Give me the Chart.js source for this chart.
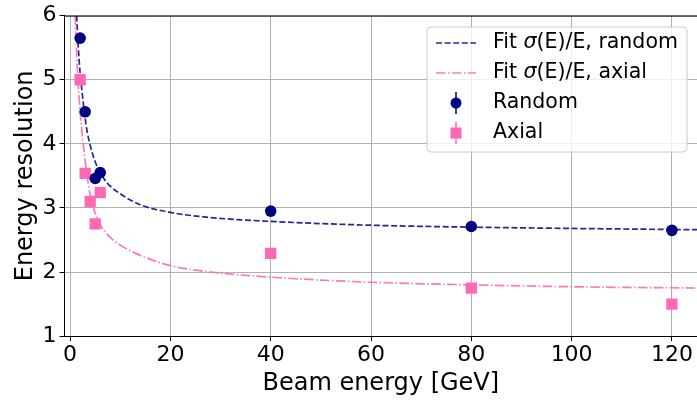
<!DOCTYPE html>
<html>
<head>
<meta charset="utf-8">
<script src="https://cdn.jsdelivr.net/npm/chart.js@4.4.1/dist/chart.umd.min.js"></script>
<style>
  html, body { margin: 0; padding: 0; background: #fff; }
  /* the axes box runs past the right edge of the page, so the canvas is a bit wider and cut off */
  #wrap { width: 697px; height: 400px; overflow: hidden; }
  canvas { display: block; }
</style>
</head>
<body>
<div id="wrap"><canvas id="resolution" width="705" height="400"></canvas></div>
<script>
// measured points
var randomE = [2, 3, 5, 6, 40, 80, 120];
var randomRes = [5.65, 4.5, 3.46, 3.55, 2.95, 2.71, 2.65];
var axialE = [2, 3, 4, 5, 6, 40, 80, 120];
var axialRes = [5.0, 3.54, 3.1, 2.75, 3.24, 2.29, 1.75, 1.5];

// fitted curves, sampled along the plotted range
var fitRandomE = [1.3, 1.6, 2.0, 2.4, 2.9, 3.5, 4.2, 5.0, 6.0, 7.5, 10, 14, 20, 28, 40, 60, 80, 100, 125];
var fitRandomRes = [6.0, 5.55, 5.1, 4.8, 4.45, 4.15, 3.92, 3.72, 3.55, 3.38, 3.22, 3.05, 2.93, 2.85, 2.79, 2.73, 2.70, 2.68, 2.66];
var fitAxialE = [1.0, 1.3, 1.6, 2.0, 2.4, 2.9, 3.4, 4.0, 5.0, 6.0, 7.5, 10, 14, 20, 28, 40, 60, 80, 100, 125];
var fitAxialRes = [6.0, 5.4, 4.95, 4.5, 4.15, 3.8, 3.5, 3.2, 2.92, 2.74, 2.58, 2.42, 2.26, 2.1, 2.0, 1.92, 1.84, 1.80, 1.77, 1.75];

var xTicks = [0, 20, 40, 60, 80, 100, 120];
var yTicks = [1, 2, 3, 4, 5, 6];

var FONT = "'DejaVu Sans', sans-serif";
var NAVY = "#000080";
var PINK = "#ff69b4";

function pts(xs, ys) {
  return xs.map(function (x, i) { return { x: x, y: ys[i] }; });
}

// top spine + boxed legend in the upper right corner
var frameAndLegend = {
  id: "frameAndLegend",
  afterDraw: function (chart) {
    var ctx = chart.ctx;
    var area = chart.chartArea;
    ctx.save();
    ctx.strokeStyle = "#000";
    ctx.lineWidth = 1;
    ctx.beginPath();
    ctx.moveTo(area.left, area.top + 0.5);
    ctx.lineTo(area.right, area.top + 0.5);
    ctx.stroke();

    var bx = 427, by = 27, bw = 260, bh = 125, r = 4;
    ctx.beginPath();
    ctx.moveTo(bx + r, by);
    ctx.arcTo(bx + bw, by, bx + bw, by + bh, r);
    ctx.arcTo(bx + bw, by + bh, bx, by + bh, r);
    ctx.arcTo(bx, by + bh, bx, by, r);
    ctx.arcTo(bx, by, bx + bw, by, r);
    ctx.closePath();
    ctx.fillStyle = "rgba(255,255,255,0.8)";
    ctx.fill();
    ctx.strokeStyle = "#cccccc";
    ctx.stroke();

    var rowY = [43, 73, 103, 133];
    chart.data.datasets.forEach(function (ds, i) {
      var y = rowY[i];
      if (ds.showLine) {
        ctx.strokeStyle = ds.borderColor;
        ctx.lineWidth = ds.borderWidth;
        ctx.setLineDash(ds.borderDash);
        ctx.beginPath();
        ctx.moveTo(436, y);
        ctx.lineTo(476, y);
        ctx.stroke();
        ctx.setLineDash([]);
      } else {
        ctx.strokeStyle = ds.backgroundColor;
        ctx.lineWidth = 1.5;
        ctx.beginPath();
        ctx.moveTo(456, y - 11);
        ctx.lineTo(456, y + 11);
        ctx.stroke();
        ctx.fillStyle = ds.backgroundColor;
        if (ds.pointStyle === "rect") {
          ctx.fillRect(450.5, y - 5.5, 11, 11);
        } else {
          ctx.beginPath();
          ctx.arc(456, y, 5.5, 0, Math.PI * 2);
          ctx.fill();
        }
      }
      // label, with sigma set in oblique as in mathtext
      ctx.fillStyle = "#000";
      ctx.textBaseline = "middle";
      var x = 493;
      var parts = ds.label.split("σ");
      parts.forEach(function (p, k) {
        if (k > 0) {
          ctx.font = "oblique 20.5px " + FONT;
          ctx.fillText("σ", x, y);
          x += ctx.measureText("σ").width;
        }
        ctx.font = "20.5px " + FONT;
        ctx.fillText(p, x, y);
        x += ctx.measureText(p).width;
      });
    });
    ctx.restore();
  }
};

new Chart(document.getElementById("resolution"), {
  type: "scatter",
  data: {
    datasets: [
      {
        label: "Fit σ(E)/E, random",
        data: pts(fitRandomE, fitRandomRes),
        showLine: true,
        borderColor: "rgba(0,0,128,0.85)",
        borderWidth: 1.7,
        borderDash: [6, 2.6],
        pointRadius: 0,
        cubicInterpolationMode: "monotone",
        order: 3
      },
      {
        label: "Fit σ(E)/E, axial",
        data: pts(fitAxialE, fitAxialRes),
        showLine: true,
        borderColor: "rgba(255,105,180,0.9)",
        borderWidth: 1.7,
        borderDash: [9.6, 2.4, 1.5, 2.4],
        pointRadius: 0,
        cubicInterpolationMode: "monotone",
        order: 2
      },
      {
        label: "Random",
        data: pts(randomE, randomRes),
        backgroundColor: NAVY,
        borderColor: NAVY,
        borderWidth: 0,
        pointStyle: "circle",
        pointRadius: 5.8,
        order: 0
      },
      {
        label: "Axial",
        data: pts(axialE, axialRes),
        backgroundColor: PINK,
        borderColor: PINK,
        borderWidth: 0,
        pointStyle: "rect",
        pointRadius: 8,
        order: 1
      }
    ]
  },
  options: {
    responsive: false,
    animation: false,
    layout: { padding: { left: 10, top: 4, right: 0, bottom: 0 } },
    plugins: {
      legend: { display: false },
      tooltip: { enabled: false }
    },
    scales: {
      x: {
        type: "linear",
        min: -1.1,
        max: 125,
        afterBuildTicks: function (scale) {
          scale.ticks = xTicks.map(function (v) { return { value: v }; });
        },
        grid: { color: "#b0b0b0", lineWidth: 1, tickColor: "#000", tickLength: 5 },
        border: { color: "#000", width: 1 },
        ticks: { color: "#000", font: { family: FONT, size: 22, lineHeight: 1.15 }, padding: 2, maxRotation: 0 },
        title: {
          display: true,
          text: "Beam energy [GeV]",
          color: "#000",
          font: { family: FONT, size: 24, lineHeight: 1.15 },
          padding: { top: 0, bottom: 2 }
        }
      },
      y: {
        type: "linear",
        min: 1,
        max: 6,
        afterBuildTicks: function (scale) {
          scale.ticks = yTicks.map(function (v) { return { value: v }; });
        },
        grid: { color: "#b0b0b0", lineWidth: 1, tickColor: "#000", tickLength: 5 },
        border: { color: "#000", width: 1 },
        ticks: { color: "#000", font: { family: FONT, size: 22, lineHeight: 1.15 }, padding: 3 },
        title: {
          display: true,
          text: "Energy resolution",
          color: "#000",
          font: { family: FONT, size: 24, lineHeight: 1.15 },
          padding: { top: 2, bottom: 0 }
        }
      }
    }
  },
  plugins: [frameAndLegend]
});
</script>
</body>
</html>
